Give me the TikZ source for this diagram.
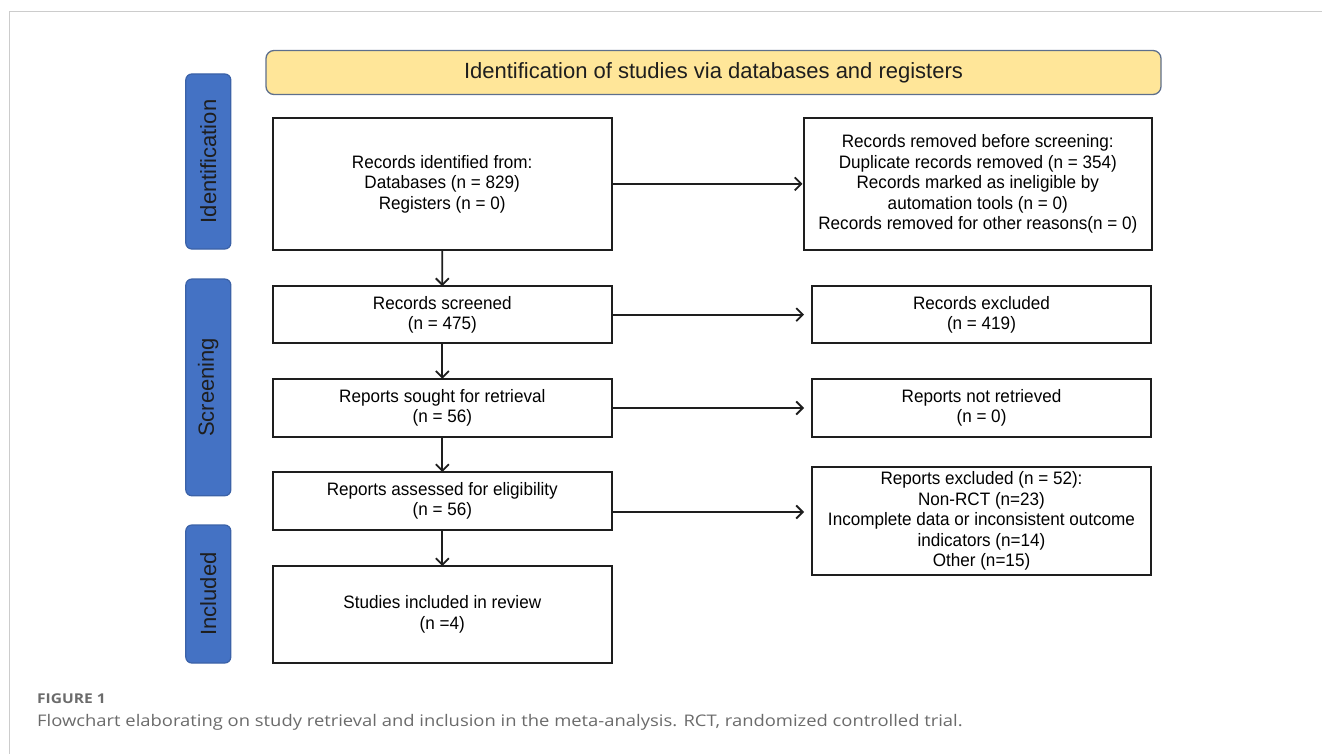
\documentclass[tikz,border=0pt]{standalone}
\usepackage{fontspec}
\setmainfont{Liberation Sans}
\newfontfamily\boxfont[FakeStretch=0.95]{Liberation Sans}
\newfontfamily\capfont[FakeStretch=1.15]{Open Sans}
\usetikzlibrary{arrows.meta,calc}
\definecolor{hdrfill}{HTML}{FFE699}
\definecolor{hdrline}{HTML}{5E6F8C}
\definecolor{sideblue}{HTML}{4472C4}
\definecolor{sideline}{HTML}{3B62A8}
\definecolor{captext}{HTML}{6B6B6B}
\definecolor{framegray}{HTML}{CCCCCC}
\definecolor{inkdark}{HTML}{1E1E1E}
\begin{document}
\begin{tikzpicture}[x=1pt,y=-1pt,
  flowbox/.style={draw=inkdark, line width=1.8pt, fill=white, align=center,
    font=\boxfont\fontsize{18}{20.5}\selectfont, inner sep=0pt, outer sep=0pt},
  sidebox/.style={draw=sideline, line width=1.2pt, fill=sideblue, rounded corners=6pt,
    minimum width=45pt, inner sep=0pt, outer sep=0pt},
  sidetext/.style={rotate=90, font=\fontsize{22}{24}\selectfont, text=inkdark},
  hdrbox/.style={draw=hdrline, line width=1.3pt, fill=hdrfill, rounded corners=8pt,
    font=\fontsize{22}{24}\selectfont, inner sep=0pt, text=inkdark},
  arr/.style={draw=inkdark, line width=1.8pt, -{Straight Barb[length=6.5pt,width=13pt]}}
]
\useasboundingbox (0,0) rectangle (1322,754);
% page frame
\draw[framegray, line width=1.3pt] (9.3,754) -- (9.3,11.7) -- (1322,11.7);

% header
\node[hdrbox, minimum width=895pt, minimum height=44pt] (hdr) at (713.5,72.5)
  {Identification of studies via databases and registers};

% side labels
\node[sidebox, minimum height=175pt] (sid) at (208.3,161.5) {};
\node[sidetext] (sidt) at (sid.center) {Identification};
\node[sidebox, minimum height=216.7pt] (sscr) at (208.3,387.4) {};
\node[sidetext] (sscrt) at (sscr.center) {Screening};
\node[sidebox, minimum height=138pt] (sinc) at (208.3,594) {};
\node[sidetext] (sinct) at (sinc.center) {Included};

% left column
\node[flowbox, minimum width=339pt, minimum height=132pt] (L1) at (442.2,183.9)
  {Records identified from:\\Databases (n = 829)\\Registers (n = 0)};
\node[flowbox, minimum width=338.7pt, minimum height=57.3pt] (L2) at (442.3,314.7)
  {Records screened\\(n = 475)};
\node[flowbox, minimum width=338.7pt, minimum height=58.5pt] (L3) at (442.3,408)
  {Reports sought for retrieval\\(n = 56)};
\node[flowbox, minimum width=338.7pt, minimum height=58pt] (L4) at (442.3,501)
  {Reports assessed for eligibility\\(n = 56)};
\node[flowbox, minimum width=339pt, minimum height=97pt] (L5) at (442.3,614.5)
  {Studies included in review\\(n =4)};

% right column
\node[flowbox, minimum width=347.7pt, minimum height=132pt] (R1) at (977.8,183.9)
  {Records removed before screening:\\Duplicate records removed (n = 354)\\Records marked as ineligible by\\automation tools (n = 0)\\Records removed for other reasons(n = 0)};
\node[flowbox, minimum width=339pt, minimum height=57.3pt] (R2) at (981.5,314.7)
  {Records excluded\\(n = 419)};
\node[flowbox, minimum width=339pt, minimum height=58.5pt] (R3) at (981.5,408)
  {Reports not retrieved\\(n = 0)};
\node[flowbox, minimum width=339pt, minimum height=108pt] (R4) at (981.5,521)
  {Reports excluded (n = 52):\\Non-RCT (n=23)\\Incomplete data or inconsistent outcome\\indicators (n=14)\\Other (n=15)};

% vertical arrows
\draw[arr] (L1.south) -- (L2.north);
\draw[arr] (L2.south) -- (L3.north);
\draw[arr] (L3.south) -- (L4.north);
\draw[arr] (L4.south) -- (L5.north);

% horizontal arrows
\draw[arr, shorten >=1.5pt] (L1.east) -- (R1.west);
\draw[arr, shorten >=8pt] (L2.east) -- (R2.west);
\draw[arr, shorten >=8pt] (L3.east) -- (R3.west);
\draw[arr, shorten >=8pt] ([yshift=-11pt]L4.east) -- ([yshift=-11pt]L4.east -| R4.west);

% caption
\node[anchor=west, inner sep=0pt, text=captext, font=\capfont\bfseries\fontsize{13.5}{15}\selectfont] (fig) at (37,699) {FIGURE 1};
\node[anchor=west, inner sep=0pt, text=captext, font=\capfont\fontsize{16}{19}\selectfont] (cap) at (37,722)
  {Flowchart elaborating on study retrieval and inclusion in the meta-analysis. RCT, randomized controlled trial.};
\end{tikzpicture}
\end{document}
